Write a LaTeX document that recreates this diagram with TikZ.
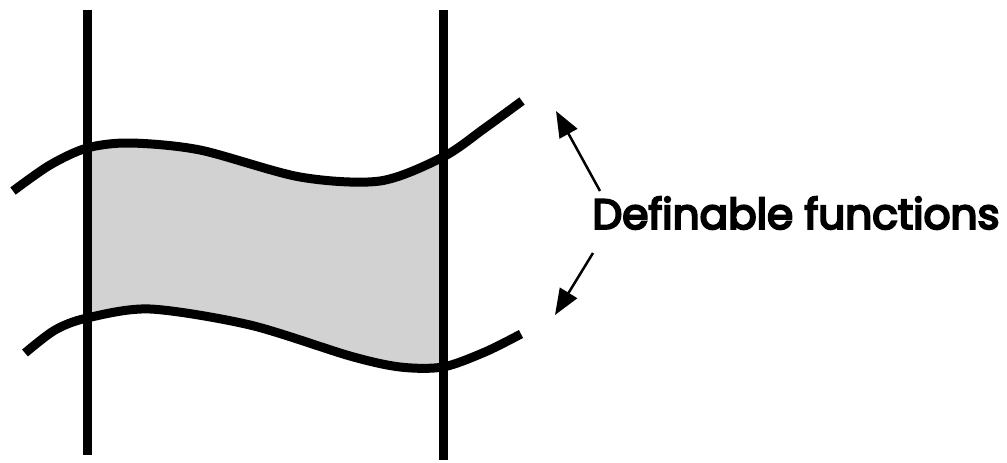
\documentclass[tikz,border=0pt]{standalone}
\usepackage{fontspec}
\setmainfont{Poppins}
\newfontfamily\labelfont{Poppins}[FakeBold=5]
\usepackage{graphicx}
\usetikzlibrary{arrows.meta}
\tikzset{
  curve/.style={line width=9pt, line cap=butt},
  wall/.style={line width=9pt},
  pointer/.style={line width=2.5pt, -{Triangle[length=26pt,width=20pt]}},
  shade/.style={fill={rgb,255:red,210;green,210;blue,210}}
}
\begin{document}
\begin{tikzpicture}[x=1pt,y=-1pt]
\useasboundingbox (0,0) rectangle (1007,463);
% shaded region
\begin{scope}
  \clip (87,0) rectangle (443,463);
  \fill[shade] plot[smooth] coordinates {(13,191) (50,165) (87,148) (130,143) (200,150) (300,177) (380,181) (443,157) (485,128) (522,101)}
    -- plot[smooth] coordinates {(521,334) (485,352) (443,367) (400,367) (350,356) (250,325) (150,309) (87,318) (55,330) (25,353)} -- cycle;
\end{scope}
% definable functions (curves)
\draw[curve] plot[smooth] coordinates {(13,191) (50,165) (87,148) (130,143) (200,150) (300,177) (380,181) (443,157) (485,128) (522,101)};
\draw[curve] plot[smooth] coordinates {(25,353) (55,330) (87,318) (150,309) (250,325) (350,356) (400,367) (443,367) (485,352) (521,334)};
% vertical lines
\coordinate (l1) at (87,10);
\coordinate (l2) at (87,455);
\coordinate (r1) at (443,10);
\coordinate (r2) at (443,460);
\draw[wall] (l1) -- (l2);
\draw[wall] (r1) -- (r2);
% label
\node (lab) at (796,213) {\resizebox{407pt}{!}{\labelfont Definable functions}};
\coordinate (t1) at (600,191);
\coordinate (h1) at (556,111);
\coordinate (t2) at (593,253);
\coordinate (h2) at (555,315);
\draw[pointer] (t1) -- (h1);
\draw[pointer] (t2) -- (h2);
\end{tikzpicture}
\end{document}
